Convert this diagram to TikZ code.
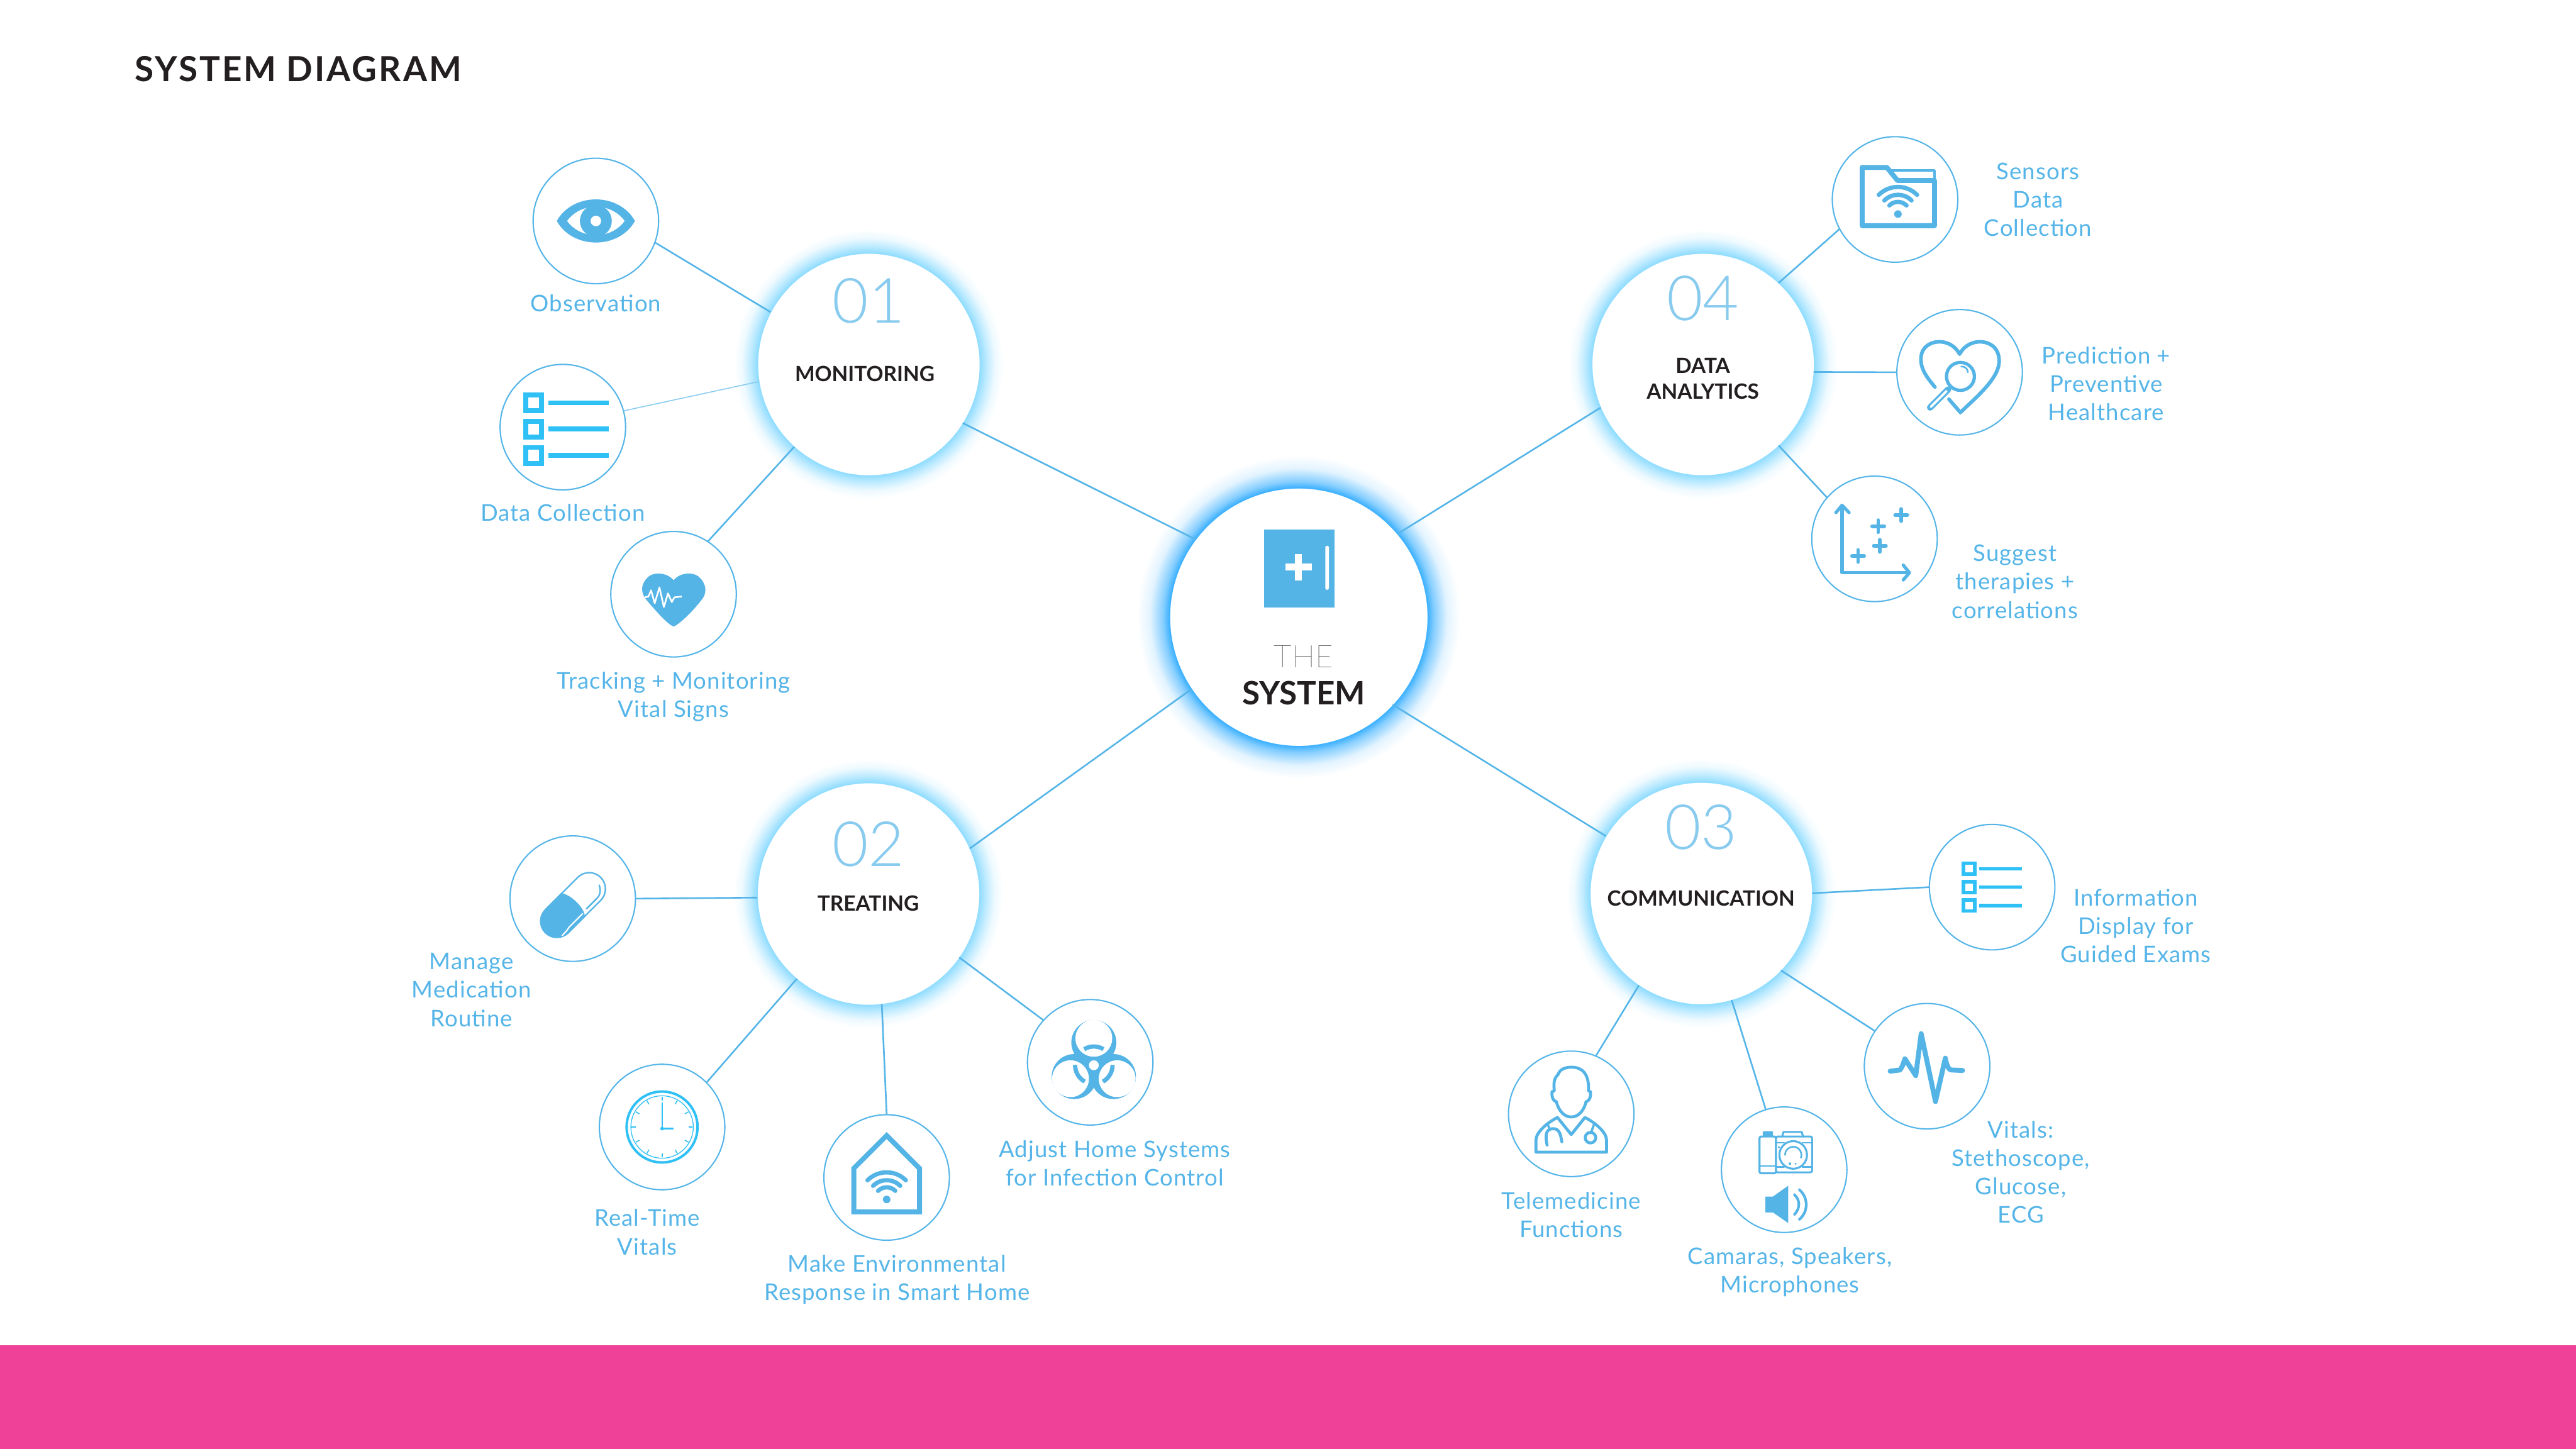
\documentclass[tikz,border=0pt]{standalone}
\usepackage{fontspec}
\setmainfont{Lato}
\newfontfamily\thinfont{Lato Thin}
\newfontfamily\numfont{Lato Light}
\newfontfamily\lblfont{Lato}[LetterSpace=3]
\usetikzlibrary{positioning}
\definecolor{lineblue}{HTML}{55B5E8}
\definecolor{iconblue}{HTML}{55B4E6}
\definecolor{listblue}{HTML}{2FC0F5}
\definecolor{inkblack}{HTML}{231F20}
\definecolor{bandpink}{HTML}{EF4197}
\definecolor{coreglow}{HTML}{36AEFF}
\definecolor{ringglow}{HTML}{8FDCFF}
\pgfdeclareradialshading{coreshade}{\pgfpointorigin}{color(0bp)=(white); color(19.88bp)=(white); color(19.9bp)=(coreglow); color(21bp)=(coreglow!60!white); color(23bp)=(coreglow!14!white); color(25bp)=(white); color(50bp)=(white)}
\pgfdeclareradialshading{ringshade}{\pgfpointorigin}{color(0bp)=(white); color(20.58bp)=(white); color(20.6bp)=(ringglow); color(22bp)=(ringglow!55!white); color(23.5bp)=(ringglow!15!white); color(25bp)=(white); color(50bp)=(white)}

\begin{document}
\begin{tikzpicture}[
  x=1pt, y=-1pt, on grid,
  core/.style={circle, fill=white, inner sep=0pt, outer sep=0pt, minimum size=156.6pt},
  hub/.style={circle, fill=white, inner sep=0pt, outer sep=0pt, minimum size=135.2pt},
  sat/.style={circle, draw=lineblue, line width=0.8pt, fill=white, inner sep=0pt, outer sep=0pt, minimum size=76.4pt},
  lbl/.style={text=lineblue, align=center, inner sep=0pt, font=\fontsize{14}{17.3}\lblfont},
  hubname/.style={text=inkblack, align=center, inner sep=0pt, font=\fontsize{12.8}{15.4}\selectfont\bfseries},
  hubnum/.style={text=lineblue!70!white, inner sep=0pt, font=\fontsize{38}{38}\numfont},
  link/.style={draw=lineblue, line width=1pt},
  ic/.style={draw=iconblue, line cap=round, line join=round},
  wifimark/.pic={
    \fill[iconblue] (0,0) circle (2.3);
    \foreach \r in {7.4,11.7,16.5}
      \draw[iconblue, line width=2.6pt, line cap=round] ({\r*cos(225)},{\r*sin(225)}) arc[start angle=225, end angle=315, radius=\r];
  },
  checklist/.pic={
    \foreach \r in {-16,0,16} {
      \draw (-22.55,\r-4.8) rectangle (-12.95,\r+4.8);
      \draw (-8.8,\r) -- (28,\r);
    }
  }
]
\useasboundingbox (0,0) rectangle (1568,882);

% Band and title
\fill[bandpink] (0,819) rectangle (1568,882);
\node[anchor=west, text=inkblack, inner sep=0pt, font=\fontsize{21}{21}\selectfont\bfseries\addfontfeature{LetterSpace=5.5}] (title) at (82,42) {SYSTEM DIAGRAM};

% Centre and the four hubs
\node[core] (S) at (790.4,375.5) {};
\node[hub, above left=153.8pt and 261.7pt of S] (M) {};
\node[hub, below left=168.5pt and 261.9pt of S] (T) {};
\node[hub, below right=168.2pt and 245pt of S] (C) {};
\node[hub, above right=153.8pt and 246.1pt of S] (D) {};

% Small circles round each hub
\node[sat, above left=87.2pt and 166pt of M] (M1) {};
\node[sat, below left=38.3pt and 186.1pt of M] (M2) {};
\node[sat, below left=140pt and 118.7pt of M] (M3) {};
\node[sat, below left=3pt and 179.9pt of T] (T1) {};
\node[sat, below left=142pt and 125.5pt of T] (T2) {};
\node[sat, below right=172.7pt and 11.2pt of T] (T3) {};
\node[sat, below right=102.6pt and 135.1pt of T] (T4) {};
\node[sat, above right=3.7pt and 177.2pt of C] (C1) {};
\node[sat, below right=105.3pt and 137.6pt of C] (C2) {};
\node[sat, below right=168.3pt and 50.6pt of C] (C3) {};
\node[sat, below left=134.3pt and 79pt of C] (C4) {};
\node[sat, above right=100.3pt and 117pt of D] (D1) {};
\node[sat, below right=4.9pt and 156.3pt of D] (D2) {};
\node[sat, below right=106.3pt and 104.5pt of D] (D3) {};

% Glow round the centre and the hubs
\shade[shading=coreshade] (S) circle (98.3);
\foreach \h in {M,T,C,D} {
  \shade[shading=ringshade] (\h) circle (82);
}

% Connections
\foreach \a/\p/\b/\q in {S/143.6/M/-32.4, S/214.4/T/24.1, S/-43.5/C/149.3, S/40/D/203.6,
    M/152.8/M1/-20.3, M/228.7/M3/57,
    T/182.5/T1/0, T/230.2/T2/45, T/-83.4/T3/90, T/-35/T4/138.6,
    C/0/C1/180, C/-44.2/C2/146.6, C/-74.3/C3/107.6, C/236.8/C4/67.4,
    D/47.8/D1/208.4, D/-4.1/D2/180, D/-47.6/D3/139.7} {
  \draw[link] (\a.\p) -- (\b.\q);
}
\draw[draw=lineblue!70, line width=0.6pt] (M.189.6) -- (M2.15.3);

% Icon of the centre
\begin{scope}[shift={(S)}]
  \fill[iconblue] (-20.9,-53.3) rectangle (22.1,-5.6);
  \fill[white] (-2.15,-38.3) rectangle (2.15,-22.3);
  \fill[white] (-8,-32.4) rectangle (8,-28.2);
  \fill[white, rounded corners=1pt] (16.3,-43.3) rectangle (18.5,-16.5);
\end{scope}

% Monitoring icons
\begin{scope}[shift={(M1)}]
  \fill[iconblue] (-23.8,0) .. controls (-14,-17.5) and (14,-17.5) .. (23.8,0) .. controls (14,17.5) and (-14,17.5) .. (-23.8,0);
  \fill[white] (-17.5,0) .. controls (-9,-11.5) and (9,-11.5) .. (17.5,0) .. controls (9,11.5) and (-9,11.5) .. (-17.5,0);
  \fill[iconblue] (0,0) circle (9.7);
  \fill[white] (0,0) circle (3.2);
\end{scope}
\pic[color=listblue, line width=3pt] at ([yshift=-1.2pt]M2) {checklist};
\begin{scope}[shift={(M3)}]
  \fill[iconblue] (0,-8.5) .. controls (-4,-13.5) and (-13,-14) .. (-16.5,-9.5) .. controls (-20.5,-5) and (-19.5,0) .. (-16.5,3.5) .. controls (-10,11) and (-4,18) .. (0,19.7) .. controls (4,18) and (12,10) .. (17,3.5) .. controls (20,0) and (20.5,-5) .. (16.5,-9.5) .. controls (13,-14) and (4,-13.5) .. (0,-8.5);
  \draw[white, line width=1pt, line join=round] (-17.5,1.9) -- (-15.3,1.4) -- (-13.7,-2.4) -- (-11.5,5.5) -- (-8.6,-4.1) -- (-5.9,7.8) -- (-3.4,-0.5) -- (-1.1,4.75) -- (0.5,1.9) -- (5,1.4);
\end{scope}

% Treating icons
\begin{scope}[shift={(T1)}, shift={(0.2,3.9)}, rotate=45]
  \draw[ic, line width=0.9pt, rounded corners=9.9pt] (-23.8,-9.9) rectangle (23.8,9.9);
  \fill[iconblue] (0,-10.3) .. controls (3.5,-6) and (4,6) .. (0,10.3) -- (-13.5,10.3) arc[start angle=90, end angle=270, radius=10.3] -- cycle;
  \draw[white, line width=0.8pt] (-18,8.4) .. controls (-14,8.4) .. (-11,7.8) -- (0.6,7.8);
  \draw[ic, line width=0.9pt, line cap=butt] (4,7.4) -- (13.5,7.4) .. controls (16,7.4) and (18,6) .. (20,2.5);
\end{scope}
\begin{scope}[shift={(T2)}]
  \draw[draw=listblue, line width=1.5pt] (0,0) circle (21.6);
  \draw[draw=listblue, line width=0.5pt] (0,0) circle (19);
  \foreach \t in {0,30,...,330} {
    \draw[draw=listblue, line width=0.6pt] ({16*cos(\t)},{16*sin(\t)}) -- ({18.5*cos(\t)},{18.5*sin(\t)});
  }
  \draw[draw=listblue, line width=0.6pt] (0,1) -- (0,-15);
  \draw[draw=listblue, line width=1.2pt] (0,1) -- (7,1);
  \fill[listblue] (0,1) circle (1.1);
\end{scope}
\begin{scope}[shift={(T3)}]
  \draw[ic, line width=3pt, line cap=butt, line join=miter] (0,-25.5) -- (20,-5.5) -- (20,21) -- (-20,21) -- (-20,-5.5) -- cycle;
  \pic at (0,13.4) {wifimark};
\end{scope}
\begin{scope}[shift={(T4)}, shift={(2.2,1.8)}]
  \foreach \a in {270,150,30} {
    \fill[iconblue] (\a:13.8) circle (13.7);
  }
  \fill[iconblue] (0,0) circle (7);
  \foreach \a in {270,150,30} {
    \fill[white] (\a:16.4) circle (11.2);
  }
  \foreach \a in {90,210,330} {
    \begin{scope}[rotate=\a]
      \draw[iconblue, line width=2.6pt] ({11.4*cos(-31)},{11.4*sin(-31)}) arc[start angle=-31, end angle=31, radius=11.4];
    \end{scope}
  }
  \fill[white] (0,0) circle (3);
\end{scope}

% Communication icons
\pic[color=listblue, line width=2.1pt, scale=0.7] at ([xshift=-1.6pt]C1) {checklist};
\begin{scope}[shift={(C2)}]
  \draw[ic, line width=3pt] (-22.5,3) -- (-16.5,2.3) .. controls (-15,0) .. (-13.5,-4.5) -- (-6.9,5.7) -- (-3.6,-19.8) -- (5.1,21.5) -- (11.1,-4.9) .. controls (12,1) and (14,2.5) .. (15,2.3) -- (21.6,2.6);
\end{scope}
\begin{scope}[shift={(C3)}]
  \draw[ic, line width=1.2pt, rounded corners=1pt] (-5,-20.2) rectangle (17,1.6);
  \draw[ic, line width=1.2pt, rounded corners=1pt] (-15,-20.2) rectangle (-5,2.2);
  \fill[iconblue, rounded corners=0.8pt] (-13,-20) rectangle (-6.8,-23.5);
  \draw[ic, line width=1.2pt] (-1.2,-20.2) -- (-0.4,-23) -- (10.7,-23) -- (11.5,-20.2);
  \draw[ic, line width=1pt] (-5,-16.4) -- (0,-16.4) (11,-16.4) -- (17,-16.4) (-5,-1.8) -- (0,-1.8) (11,-1.8) -- (17,-1.8) (-15,-2.2) -- (-5,-2.2);
  \draw[ic, line width=1.2pt, fill=white] (5.5,-9) circle (8.4);
  \draw[ic, line width=1pt] (0.5,-9) arc[start angle=180, end angle=380, radius=5];
  \fill[iconblue] (-3.2,-13.7) circle (0.7);
  \fill[iconblue] (3.5,-3.7) circle (0.8) (7,-3.6) circle (0.6);
  \fill[iconblue] (-11.4,16.3) -- (-6.8,16.3) -- (2.5,9.7) -- (2.5,32.5) -- (-6.8,26) -- (-11.4,26) -- cycle;
  \draw[ic, line width=1.6pt] (6.3,15.2) .. controls (9.8,18.5) and (9.8,23.5) .. (6.3,27.2);
  \draw[ic, line width=1.6pt] (9.3,12.2) .. controls (14.8,17) and (14.8,25.5) .. (9.3,30.2);
\end{scope}
\begin{scope}[shift={(C4)}]
  \draw[ic, line width=1.8pt] (0,1.9) .. controls (-5,1.9) and (-8,-3) .. (-9,-7.3) .. controls (-11.5,-8) and (-12,-11) .. (-11.7,-13.5) -- (-10.3,-14) .. controls (-11,-20) and (-10,-22) .. (-8,-24) .. controls (-7,-27) and (-4,-28.4) .. (0.3,-28.4) .. controls (7,-28.4) and (11,-24) .. (10.5,-14) -- (11.7,-13.5) .. controls (12,-11) and (11.5,-8) .. (9,-7.3) .. controls (8,-3) and (5,1.9) .. (0,1.9);
  \draw[ic, line width=1.8pt] (-8.4,2.2) -- (0,12.6) -- (8.3,2.2) .. controls (14,5) and (21.5,11) .. (21.5,16) -- (21.5,23.3) -- (-21.5,23.3) -- (-21.5,16) .. controls (-21.5,11) and (-14,5) .. (-8.4,2.2);
  \draw[ic, line width=1.4pt] (13.8,6.6) -- (12.3,10.7);
  \draw[ic, line width=1.8pt] (11.7,14.5) circle (3.2);
  \draw[ic, line width=1.4pt] (-14.3,6.6) -- (-13.2,8.9);
  \draw[ic, line width=1.8pt] (-14.7,19) .. controls (-16,13) and (-15.5,9) .. (-11,9) .. controls (-7,9) and (-6.5,13) .. (-5.7,17);
\end{scope}

% Data analytics icons
\begin{scope}[shift={(D1)}]
  \draw[ic, line width=3pt] (-20,-19.5) -- (-5,-19.5) -- (1.5,-11.5) -- (24,-11.5) -- (24,16) -- (-20,16) -- cycle;
  \draw[ic, line width=1.5pt] (-2,-17.6) -- (24,-17.6) -- (24,-11.5);
  \pic at (1.75,8.9) {wifimark};
\end{scope}
\begin{scope}[shift={(D2)}]
  \draw[ic, line width=2.2pt] (-15,9) .. controls (-21,2) and (-24,-3) .. (-23.5,-9) .. controls (-23,-16) and (-17,-19) .. (-11,-18.5) .. controls (-6,-18) and (-2,-15) .. (0,-11) .. controls (2,-15) and (6,-18) .. (11,-18.5) .. controls (17,-19) and (23.5,-16) .. (24,-8) .. controls (24.5,-2) and (21,3) .. (17,8) .. controls (11,15) and (6,19) .. (0.5,24.5) -- (-6.5,16.4);
  \draw[ic, line width=2pt] (0.5,2.5) circle (8.5);
  \draw[ic, line width=1pt] (1,-3.5) .. controls (4,-3.5) and (5,-1.5) .. (5,0);
  \draw[ic, line width=3.8pt] (-7,10.5) -- (-18,21.5);
  \draw[white, line width=1.4pt, line cap=round] (-8,11.5) -- (-17.5,21);
\end{scope}
\begin{scope}[shift={(D3)}]
  \draw[ic, line width=2pt] (-19.75,-20) -- (-19.75,20.6) -- (21,20.6);
  \draw[ic, line width=2pt] (-23.5,-16) -- (-19.75,-20.4) -- (-15.5,-16);
  \draw[ic, line width=2pt] (17.5,16) -- (21.25,20.6) -- (17.5,25);
  \foreach \x/\y in {16.25/-14.5, 2.25/-7.7, 3.25/4.25, -10/10.4} {
    \draw[ic, line width=2.2pt] (\x-3.7,\y) -- (\x+3.7,\y);
    \draw[ic, line width=2.2pt] (\x,\y-3.7) -- (\x,\y+3.7);
  }
\end{scope}

% Text in the centre and the hubs
\node[below right=24.3pt and 3.2pt of S, inner sep=0pt, text=black, font=\fontsize{19}{19}\thinfont] (ST) {THE};
\node[below right=46.3pt and 3.2pt of S, inner sep=0pt, text=inkblack, font=\fontsize{19.6}{19.6}\selectfont\bfseries] (SN) {SYSTEM};
\node[hubnum, above=38.7pt of M] (MN) {01};
\node[hubname, below left=6pt and 2.3pt of M] (ML) {MONITORING};
\node[hubnum, above=30pt of T] (TN) {02};
\node[hubname, below=6pt of T] (TL) {TREATING};
\node[hubnum, above=40pt of C] (CN) {03};
\node[hubname, below=3pt of C] (CL) {COMMUNICATION};
\node[hubnum, above=40pt of D] (DN) {04};
\node[hubname, below=8.8pt of D] (DL) {DATA\\ANALYTICS};

% Labels of the small circles
\node[lbl, below=50pt of M1] (LM1) {Observation};
\node[lbl, below=52pt of M2] (LM2) {Data Collection};
\node[lbl, below=62.3pt of M3] (LM3) {Tracking + Monitoring\\Vital Signs};
\node[lbl, below left=55.5pt and 61.6pt of T1] (LT1) {Manage\\Medication\\Routine};
\node[lbl, below left=64pt and 9pt of T2] (LT2) {Real-Time\\Vitals};
\node[lbl, below right=62.1pt and 6.3pt of T3] (LT3) {Make Environmental\\Response in Smart Home};
\node[lbl, below right=61.4pt and 14.9pt of T4] (LT4) {Adjust Home Systems\\for Infection Control};
\node[lbl, below right=23.5pt and 87.4pt of C1] (LC1) {Information\\Display for\\Guided Exams};
\node[lbl, below right=64.5pt and 57pt of C2] (LC2) {Vitals:\\Stethoscope,\\Glucose,\\ECG};
\node[lbl, below right=62.3pt and 3.5pt of C3] (LC3) {Camaras, Speakers,\\Microphones};
\node[lbl, below=61.5pt of C4] (LC4) {Telemedicine\\Functions};
\node[lbl, right=87pt of D1] (LD1) {Sensors\\Data\\Collection};
\node[lbl, below right=7pt and 89.2pt of D2] (LD2) {Prediction +\\Preventive\\Healthcare};
\node[lbl, below right=26pt and 85.5pt of D3] (LD3) {Suggest\\therapies +\\correlations};

\end{tikzpicture}
\end{document}
